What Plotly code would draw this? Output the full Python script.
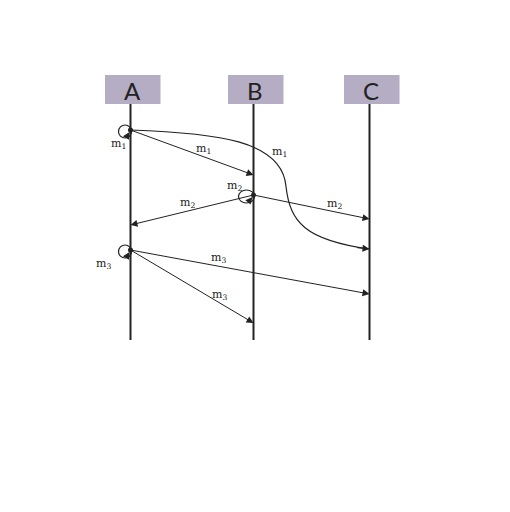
import plotly.graph_objects as go

# participants and where their lifelines sit (pixel-like data units)
participants = ["A", "B", "C"]
lane_x = [130.5, 253.5, 369.5]
lifeline_top = 104
lifeline_bottom = 340

# messages: label, sender, receiver, send time, receive time
msg_label = ["1", "1", "2", "2", "3", "3"]
msg_src = ["A", "A", "B", "B", "A", "A"]
msg_dst = ["B", "C", "A", "C", "C", "B"]
msg_send = [130, 130, 195, 195, 250, 250]
msg_recv = [175, 249, 225, 219, 294, 323]
msg_curved = [False, True, False, False, False, False]

# local events (self loops) on a lifeline
loop_owner = ["A", "B", "A"]
loop_time = [130, 195, 250]
loop_label = ["1", "2", "3"]

# where the labels sit along each straight message (fraction of its length)
label_frac = [0.59, None, 0.54, 0.70, 0.37, 0.72]

LINE = "#222222"
BOX = "#b4adc4"
SERIF = "DejaVu Serif"
PAGE_PAD = 8  # browser body margin

xpos = dict(zip(participants, lane_x))

fig = go.Figure()
shapes = []
annotations = []

# header boxes + lifelines
for name, x in zip(participants, lane_x):
    shapes.append(dict(type="rect", xref="x", yref="y", x0=x - 25.5, x1=x + 30,
                       y0=75, y1=lifeline_top, fillcolor=BOX, line_width=0, layer="below"))
    fig.add_trace(go.Scatter(x=[x, x], y=[lifeline_top, lifeline_bottom], mode="lines",
                             line=dict(color=LINE, width=2), hoverinfo="skip"))
    annotations.append(dict(x=x + 1.5, y=90, text=name, showarrow=False,
                            font=dict(family="Lato", size=24, color=LINE)))

# messages
for lab, s, d, t0, t1, curved, frac in zip(msg_label, msg_src, msg_dst, msg_send,
                                            msg_recv, msg_curved, label_frac):
    x0, x1 = xpos[s], xpos[d]
    if curved:
        xm = (x0 + x1) / 2 + 36
        ym = (t0 + t1) / 2 - 3
        path = (f"M {x0},{t0} C {x0 + 85},{t0 + 3} {xm - 4},{t0 + 10} {xm},{ym} "
                f"C {xm + 4},{t1 - 27} {xm + 19},{t1 - 9} {x1},{t1}")
        shapes.append(dict(type="path", xref="x", yref="y", path=path,
                           line=dict(color=LINE, width=1.2)))
        annotations.append(dict(x=x1, y=t1, ax=x1 - 14, ay=t1 - 1.5, axref="x", ayref="y",
                                xref="x", yref="y", text="", showarrow=True, arrowhead=2,
                                arrowsize=1.4, arrowwidth=1, arrowcolor=LINE))
        annotations.append(dict(x=279, y=152, text=f"m<sub>{lab}</sub>", showarrow=False,
                                font=dict(family=SERIF, size=11, color=LINE)))
    else:
        annotations.append(dict(x=x1, y=t1, ax=x0, ay=t0, axref="x", ayref="y",
                                xref="x", yref="y", text="", showarrow=True, arrowhead=2,
                                arrowsize=1.4, arrowwidth=1, arrowcolor=LINE))
        lx = x0 + (x1 - x0) * frac
        ly = t0 + (t1 - t0) * frac - 8
        annotations.append(dict(x=lx, y=ly, text=f"m<sub>{lab}</sub>", showarrow=False,
                                font=dict(family=SERIF, size=11, color=LINE)))

# self loops with event dots
for who, t, lab in zip(loop_owner, loop_time, loop_label):
    x = xpos[who]
    rx = 8 if who == "B" else 6.5
    cx = x - rx + 1
    shapes.append(dict(type="circle", xref="x", yref="y", x0=cx - rx, x1=cx + rx,
                       y0=t - 5, y1=t + 8, line=dict(color=LINE, width=1.2)))
    annotations.append(dict(x=x - 1, y=t + 2, ax=cx + 1, ay=t + 8, axref="x", ayref="y",
                            xref="x", yref="y", text="", showarrow=True, arrowhead=2,
                            arrowsize=1.4, arrowwidth=1, arrowcolor=LINE))
    fig.add_trace(go.Scatter(x=[x], y=[t], mode="markers",
                             marker=dict(color=LINE, size=5), hoverinfo="skip"))
    if who == "B":
        lx, ly = x - 19, t - 9
    else:
        lx, ly = x - 12 - (15 if lab == "3" else 0), t + 14
    annotations.append(dict(x=lx, y=ly, text=f"m<sub>{lab}</sub>", showarrow=False,
                            font=dict(family=SERIF, size=11, color=LINE)))

fig.update_layout(
    width=510, height=512, autosize=False,
    margin=dict(l=0, r=0, t=0, b=0),
    paper_bgcolor="white", plot_bgcolor="white",
    showlegend=False,
    xaxis=dict(range=[PAGE_PAD, 510 + PAGE_PAD], visible=False, fixedrange=True),
    yaxis=dict(range=[512 + PAGE_PAD, PAGE_PAD], visible=False, fixedrange=True),
    shapes=shapes, annotations=annotations,
)

fig.write_html("out.html")
